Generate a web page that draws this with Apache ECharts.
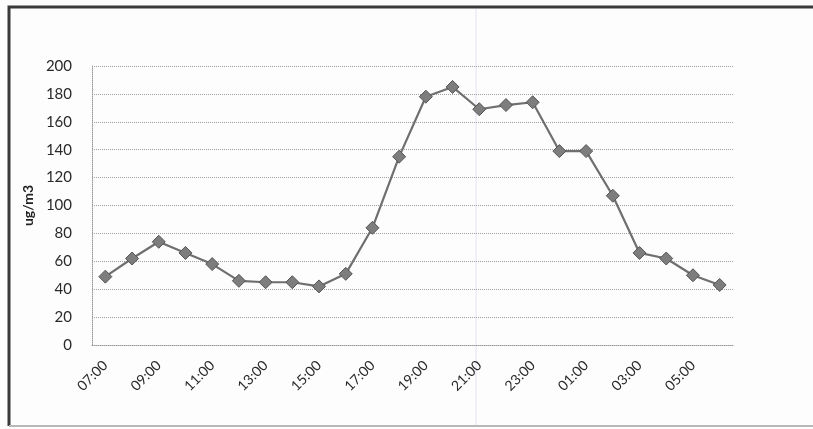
<!DOCTYPE html>
<html>
<head>
<meta charset="utf-8">
<script src="https://cdn.jsdelivr.net/npm/echarts@6/dist/echarts.min.js"></script>
<style>
  html, body { margin: 0; padding: 0; background: #fdfdfd; }
  #chart { width: 813px; height: 429px; }
</style>
</head>
<body>
<div id="chart"></div>
<script>
// Hourly concentration over one day, 07:00 through 06:00
const hours = ['07:00','08:00','09:00','10:00','11:00','12:00','13:00','14:00','15:00','16:00','17:00','18:00',
               '19:00','20:00','21:00','22:00','23:00','00:00','01:00','02:00','03:00','04:00','05:00','06:00'];
const concentration = [49, 62, 74, 66, 58, 46, 45, 45, 42, 51, 84, 135,
                       178, 185, 169, 172, 174, 139, 139, 107, 66, 62, 50, 43];
const yTicks = { min: 0, max: 200, step: 20 };
const yName = 'ug/m3';

const font = 'Lato, "Open Sans", sans-serif';
const chart = echarts.init(document.getElementById('chart'), null, { renderer: 'canvas' });

chart.setOption({
  backgroundColor: '#fdfdfd',
  animation: false,
  grid: { left: 92, right: 80, top: 66, bottom: 84 },
  xAxis: {
    type: 'category',
    data: hours,
    boundaryGap: true,
    axisLine: { show: true, lineStyle: { color: '#9a9a9a', type: 'dotted', width: 1 } },
    axisTick: { show: false },
    axisLabel: {
      interval: 1,
      rotate: 45,
      color: '#2a2a2a',
      fontFamily: font,
      fontSize: 14,
      margin: 18
    },
    splitLine: { show: false }
  },
  yAxis: {
    type: 'value',
    min: yTicks.min,
    max: yTicks.max,
    interval: yTicks.step,
    name: yName,
    nameLocation: 'middle',
    nameGap: 51,
    nameRotate: 90,
    nameTextStyle: { fontFamily: font, fontSize: 14, fontWeight: 'bold', color: '#222' },
    axisLine: { show: true, lineStyle: { color: '#9a9a9a', type: 'dotted', width: 1 } },
    axisTick: { show: false },
    axisLabel: { color: '#2a2a2a', fontFamily: font, fontSize: 15, margin: 20 },
    splitLine: { show: true, lineStyle: { color: '#a0a0a0', type: 'dotted', width: 1 } }
  },
  series: [{
    type: 'line',
    data: concentration,
    symbol: 'diamond',
    symbolSize: 13,
    showAllSymbol: true,
    lineStyle: { color: '#6f6f6f', width: 2.2 },
    itemStyle: { color: '#7d7d7d', borderColor: '#555', borderWidth: 1 }
  }],
  graphic: [
    // outer frame: heavy top and left edges, light bottom edge
    {
      type: 'polyline',
      shape: { points: [[9, 426], [9, 7], [813, 7]] },
      style: { stroke: '#3a3a3a', lineWidth: 3, fill: null },
      silent: true
    },
    {
      type: 'line',
      shape: { x1: 9, y1: 426, x2: 813, y2: 426 },
      style: { stroke: '#b8b8b8', lineWidth: 2 },
      silent: true
    },
    // faint vertical streak across the sheet
    {
      type: 'line',
      shape: { x1: 476, y1: 9, x2: 476, y2: 425 },
      style: { stroke: '#e2e4ee', lineWidth: 1 },
      silent: true,
      z: -1
    }
  ]
});
</script>
</body>
</html>
